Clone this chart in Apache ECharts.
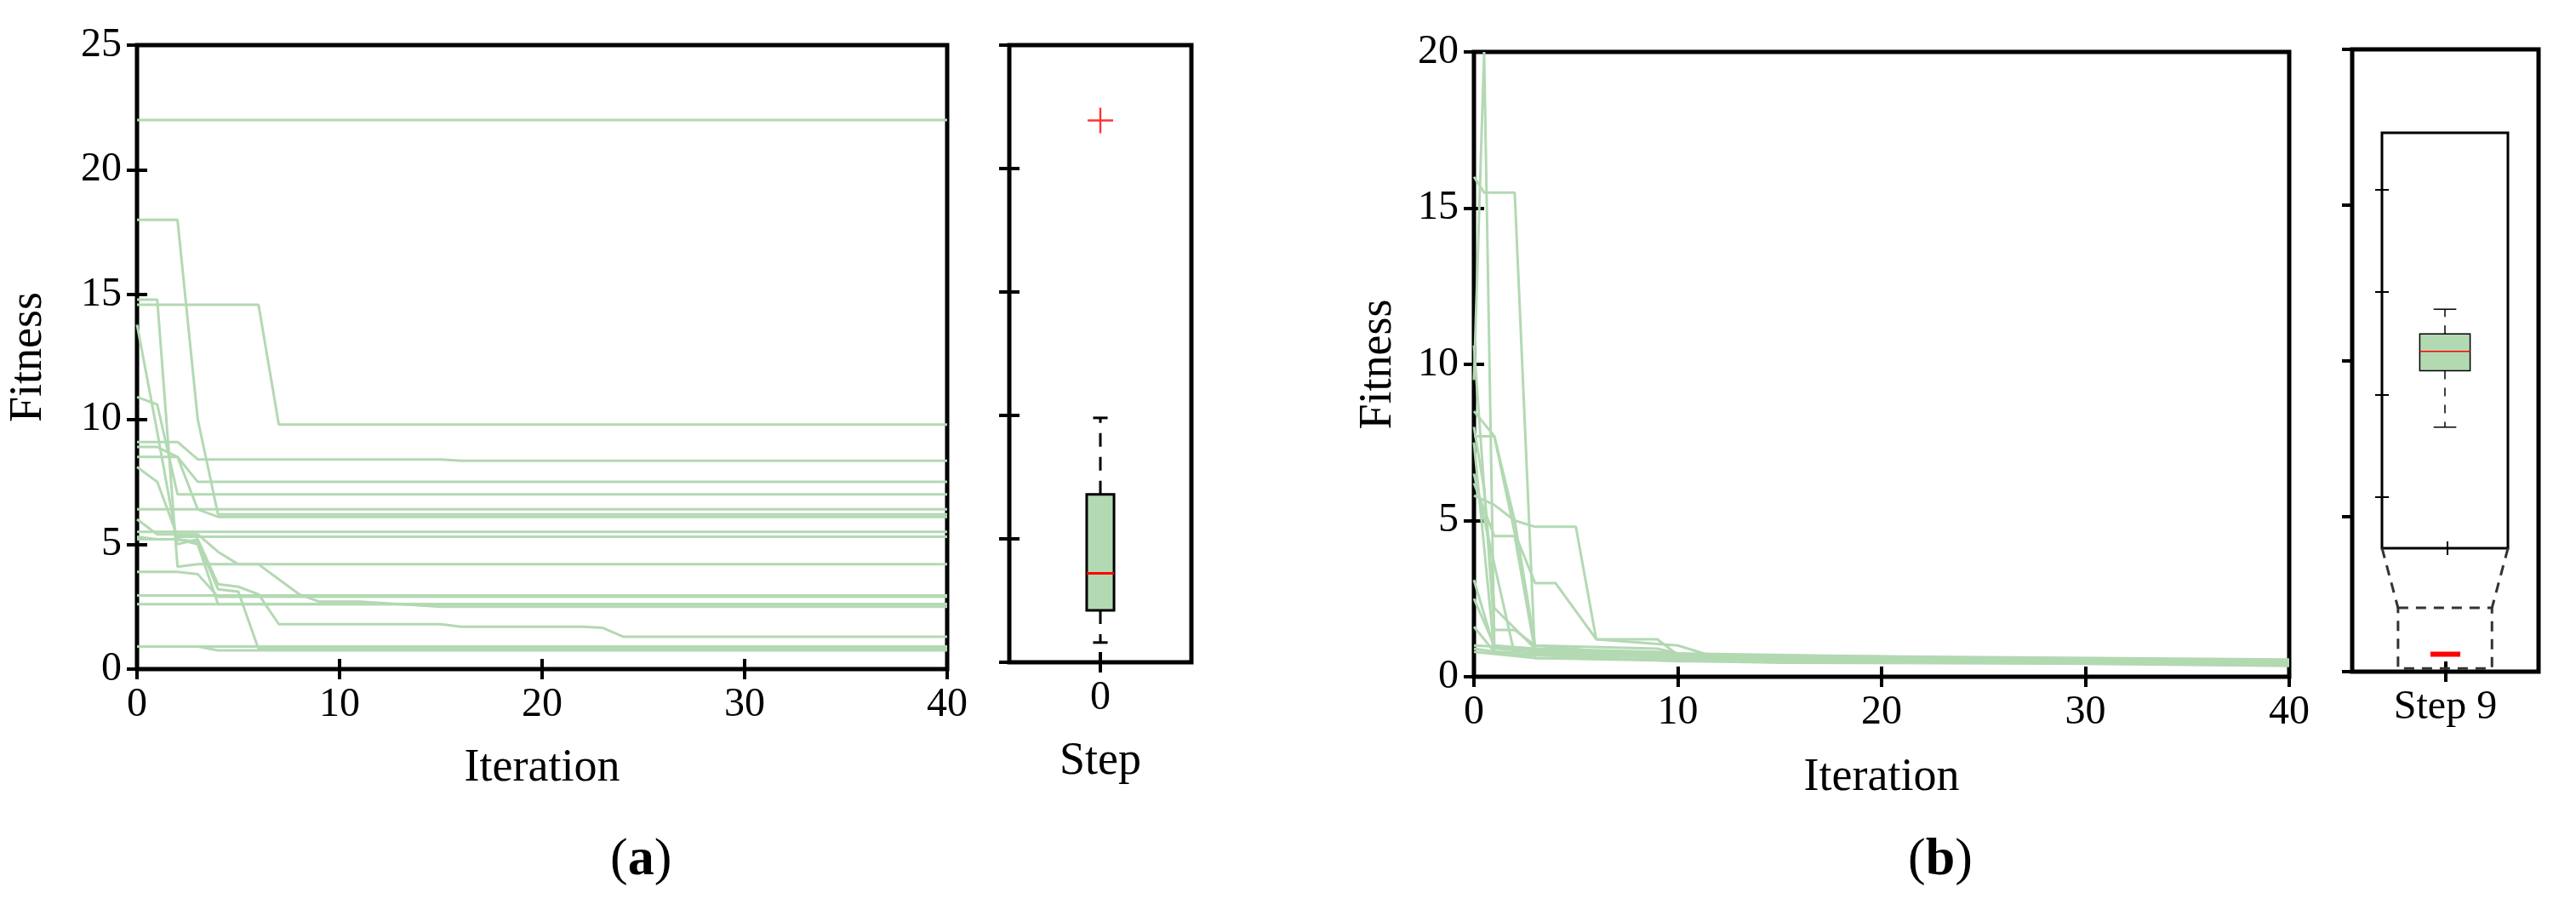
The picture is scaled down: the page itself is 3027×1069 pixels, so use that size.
<!DOCTYPE html>
<html>
<head>
<meta charset="utf-8">
<script src="https://cdn.jsdelivr.net/npm/echarts@6/dist/echarts.min.js"></script>
<style>
html, body { margin: 0; padding: 0; background: #fff; }
#chart { width: 3027px; height: 1069px; }
</style>
</head>
<body>
<div id="chart"></div>
<script>
// panel (a): fitness per run, values at iteration 0,1,2,... then flat to 40
var runsA = [
	[22.0],
	[14.6, 14.6, 14.6, 14.6, 14.6, 14.6, 14.6, 9.8],
	[18.0, 18.0, 18.0, 10.0, 6.2],
	[14.8, 14.8, 4.1, 4.2],
	[13.8, 9.5, 5.0, 5.2, 3.4, 3.3, 3.0, 1.8, 1.8, 1.8, 1.8, 1.8, 1.8, 1.8, 1.8, 1.8, 1.7, 1.7, 1.7, 1.7, 1.7, 1.7, 1.7, 1.65, 1.3],
	[10.9, 10.6, 7.0, 7.0],
	[9.1, 9.1, 9.1, 8.4, 8.4, 8.4, 8.4, 8.4, 8.4, 8.4, 8.4, 8.4, 8.4, 8.4, 8.4, 8.4, 8.35],
	[8.9, 8.9, 8.5, 7.5],
	[8.5, 8.5, 8.5, 6.4, 6.1],
	[8.1, 7.5, 5.3, 5.3],
	[6.4],
	[6.0, 5.4, 5.4, 5.4, 4.7, 4.2, 4.2, 3.6, 3.0, 2.7, 2.7, 2.7, 2.65, 2.6, 2.55, 2.5],
	[5.5, 5.5, 5.5, 5.5, 5.5],
	[5.3, 5.2, 5.2, 5.0, 2.6],
	[5.2, 5.2, 5.2, 5.1, 3.2, 3.1, 0.8],
	[3.9, 3.9, 3.9, 3.8, 2.9],
	[2.95],
	[2.6],
	[0.9, 0.9, 0.9, 0.9, 0.75],
	[0.9]
];

// panel (b): [iteration, fitness] breakpoints per run
var runsB = [
	[[0, 9.5], [0.5, 20], [1, 1.0], [3, 0.7], [10, 0.5], [40, 0.45]],
	[[0, 16], [0.5, 15.5], [2, 15.5], [3, 0.6], [15, 0.45], [40, 0.4]],
	[[0, 10.6], [1, 1.5], [2, 1.5], [3, 1.0], [10, 0.6], [40, 0.5]],
	[[0, 8.5], [1, 7.7], [2, 4.6], [3, 3.0], [4, 3.0], [6, 1.2], [10, 1.0], [12, 0.6], [40, 0.5]],
	[[0, 7.7], [1, 7.7], [2, 5.0], [3, 4.8], [5, 4.8], [6, 1.2], [9, 1.2], [10, 0.7], [40, 0.55]],
	[[0, 6.2], [1, 4.5], [2, 4.5], [3, 0.8], [10, 0.6], [40, 0.5]],
	[[0, 5.8], [1, 5.5], [2, 5.0], [3, 1.0], [9, 0.9], [11, 0.6], [40, 0.5]],
	[[0, 3.1], [1, 0.9], [10, 0.7], [40, 0.5]],
	[[0, 2.5], [1, 1.0], [5, 0.8], [40, 0.45]],
	[[0, 1.6], [1, 0.8], [40, 0.4]],
	[[0, 1.0], [3, 0.9], [9, 0.8], [15, 0.5], [40, 0.45]],
	[[0, 0.9], [2, 0.7], [40, 0.4]],
	[[0, 0.8], [3, 0.6], [40, 0.35]],
	[[0, 8.0], [0.5, 6.0], [1, 2.2], [3, 0.9], [10, 0.7], [40, 0.5]],
	[[0, 7.5], [1, 0.8], [40, 0.45]],
	[[0, 6.5], [2, 0.7], [40, 0.4]]
];

// box stats: [low whisker, q1, median, q3, high whisker]
var boxA = [0.8, 2.1, 3.6, 6.8, 9.9];
var outliersA = [21.95];
// step 9 box, in zoomed inset units
var boxB = [1.18, 1.73, 1.92, 2.09, 2.33];
var insetTicks = [0.5, 1.5, 2.5, 3.5];
// squashed box in the outer step-9 panel
var boxBOuter = [0.56];
// zoom guide: outer region and inset corners (x fraction, fitness)
var zoomRect = [[0.246, 0.1], [0.75, 2.05]];
var insetCorners = [[0.16, 3.97], [0.836, 3.97]];

var green = '#b3d9b3';
var font = 'Liberation Serif';

function lineData(vals) {
	var d = vals.map(function (v, i) { return [i, v]; });
	d.push([40, vals[vals.length - 1]]);
	return d;
}

function frameAxes(kind, grid, opt, noPrimaryTicks) {
	// primary axis plus a mirrored one so ticks sit on all four sides
	var base = {
		gridIndex: grid, type: 'value',
		axisLine: { show: false },
		axisTick: { show: true, inside: true, length: 12, lineStyle: { color: '#000', width: 4 } },
		splitLine: { show: false },
		axisLabel: { show: false }
	};
	var a = Object.assign({}, base, opt);
	var b = Object.assign({}, base, opt, { axisLabel: { show: false }, name: '' });
	if (noPrimaryTicks) a.axisTick = { show: false };
	b.position = kind == 'x' ? 'top' : 'right';
	a.position = kind == 'x' ? 'bottom' : 'left';
	return [a, b];
}

var labelStyle = { show: true, color: '#000', fontFamily: font, fontSize: 48, margin: 18 };
var nameStyle = { color: '#000', fontFamily: font, fontSize: 54, fontWeight: 'normal' };

var xAxes = [], yAxes = [];
// grid 0: (a) lines
xAxes = xAxes.concat(frameAxes('x', 0, { min: 0, max: 40, interval: 10, axisLabel: labelStyle,
	name: 'Iteration', nameLocation: 'middle', nameGap: 90, nameTextStyle: nameStyle }));
yAxes = yAxes.concat(frameAxes('y', 0, { min: 0, max: 25, interval: 5, axisLabel: labelStyle,
	name: 'Fitness', nameLocation: 'middle', nameGap: 100, nameTextStyle: nameStyle }));
// grid 1: (a) box
xAxes = xAxes.concat(frameAxes('x', 1, { min: 0, max: 1,
	axisTick: { show: true, inside: true, length: 12, customValues: [0.5], lineStyle: { color: '#000', width: 4 } },
	axisLabel: Object.assign({}, labelStyle, { customValues: [0.5], formatter: function () { return '0'; } }),
	name: 'Step', nameLocation: 'middle', nameGap: 90, nameTextStyle: nameStyle }));
yAxes = yAxes.concat(frameAxes('y', 1, { min: 0, max: 25, interval: 5 }));
// grid 2: (b) lines
xAxes = xAxes.concat(frameAxes('x', 2, { min: 0, max: 40, interval: 10, axisLabel: labelStyle,
	name: 'Iteration', nameLocation: 'middle', nameGap: 92, nameTextStyle: nameStyle }));
yAxes = yAxes.concat(frameAxes('y', 2, { min: 0, max: 20, interval: 5, axisLabel: labelStyle,
	name: 'Fitness', nameLocation: 'middle', nameGap: 85, nameTextStyle: nameStyle }));
// grid 3: (b) outer box
xAxes = xAxes.concat(frameAxes('x', 3, { min: 0, max: 1,
	axisTick: { show: true, inside: true, length: 12, customValues: [0.5], lineStyle: { color: '#000', width: 4 } },
	axisLabel: Object.assign({}, labelStyle, { customValues: [0.5], formatter: function () { return 'Step 9'; } }) }));
yAxes = yAxes.concat(frameAxes('y', 3, { min: 0, max: 20, interval: 5 }, true));
// grid 4: (b) inset
var insetTick = { show: true, inside: true, length: 8, lineStyle: { color: '#000', width: 2 } };
xAxes = xAxes.concat(frameAxes('x', 4, { min: 0, max: 1,
	axisTick: Object.assign({}, insetTick, { customValues: [0.52] }) }));
yAxes = yAxes.concat(frameAxes('y', 4, { min: 0, max: 4.05,
	axisTick: Object.assign({}, insetTick, { customValues: insetTicks }) }));

function boxRender(stats, halfW, capW, thin) {
	return function (params, api) {
		var lo = api.coord([0.5, stats[0]]), q1 = api.coord([0.5, stats[1]]),
			md = api.coord([0.5, stats[2]]), q3 = api.coord([0.5, stats[3]]),
			hi = api.coord([0.5, stats[4]]);
		var left = api.coord([0.5 - halfW, 0])[0], right = api.coord([0.5 + halfW, 0])[0];
		var cl = api.coord([0.5 - capW, 0])[0], cr = api.coord([0.5 + capW, 0])[0];
		var cx = lo[0];
		var lw = thin ? 1.5 : 3;
		var dash = thin ? [10, 10] : [16, 12];
		return { type: 'group', children: [
			{ type: 'line', shape: { x1: cx, y1: q3[1], x2: cx, y2: hi[1] }, style: { stroke: '#000', lineWidth: lw, lineDash: dash } },
			{ type: 'line', shape: { x1: cx, y1: q1[1], x2: cx, y2: lo[1] }, style: { stroke: '#000', lineWidth: lw, lineDash: dash } },
			{ type: 'line', shape: { x1: cl, y1: hi[1], x2: cr, y2: hi[1] }, style: { stroke: '#000', lineWidth: lw } },
			{ type: 'line', shape: { x1: cl, y1: lo[1], x2: cr, y2: lo[1] }, style: { stroke: '#000', lineWidth: lw } },
			{ type: 'rect', shape: { x: left, y: q3[1], width: right - left, height: q1[1] - q3[1] },
				style: { fill: green, stroke: '#000', lineWidth: lw } },
			{ type: 'line', shape: { x1: left, y1: md[1], x2: right, y2: md[1] }, style: { stroke: '#f00', lineWidth: thin ? 1.5 : 3 } }
		] };
	};
}

var series = [];
runsA.forEach(function (r) {
	series.push({ type: 'line', xAxisIndex: 0, yAxisIndex: 0, data: lineData(r), showSymbol: false,
		silent: true, lineStyle: { color: green, width: 3 }, z: 1 });
});
runsB.forEach(function (r) {
	series.push({ type: 'line', xAxisIndex: 4, yAxisIndex: 4, data: r, showSymbol: false,
		silent: true, lineStyle: { color: green, width: 3 }, z: 1 });
});
series.push({ type: 'custom', xAxisIndex: 2, yAxisIndex: 2, data: [0], renderItem: boxRender(boxA, 0.075, 0.04, false) });
series.push({ type: 'scatter', xAxisIndex: 2, yAxisIndex: 2, data: outliersA.map(function (v) { return [0.5, v]; }),
	symbol: 'path://M-0.08,-1H0.08V-0.08H1V0.08H0.08V1H-0.08V0.08H-1V-0.08H-0.08Z', symbolSize: 30,
	itemStyle: { color: '#f00' } });
series.push({ type: 'custom', xAxisIndex: 8, yAxisIndex: 8, data: [0], renderItem: boxRender(boxB, 0.2, 0.09, true) });
// zoom guide in outer step 9 panel
series.push({ type: 'custom', xAxisIndex: 6, yAxisIndex: 6, data: [0], renderItem: function (params, api) {
	var p0 = api.coord(zoomRect[0]), p1 = api.coord(zoomRect[1]);
	var c0 = api.coord(insetCorners[0]), c1 = api.coord(insetCorners[1]);
	var st = { stroke: '#333', lineWidth: 3, lineDash: [12, 9], fill: null };
	var m0 = api.coord([0.42, boxBOuter[0]]), m1 = api.coord([0.58, boxBOuter[0]]);
	return { type: 'group', children: [
		{ type: 'rect', shape: { x: p0[0], y: p1[1], width: p1[0] - p0[0], height: p0[1] - p1[1] }, style: st },
		{ type: 'line', shape: { x1: c0[0], y1: c0[1], x2: p0[0], y2: p1[1] }, style: st },
		{ type: 'line', shape: { x1: c1[0], y1: c1[1], x2: p1[0], y2: p1[1] }, style: st },
		{ type: 'line', shape: { x1: m0[0], y1: m0[1], x2: m1[0], y2: m1[1] }, style: { stroke: '#f00', lineWidth: 6 } }
	] };
} });

var gridStyle = { show: true, borderColor: '#000', borderWidth: 5, backgroundColor: '#fff' };
var capRich = {
	p: { fontFamily: font, fontSize: 62, color: '#000', fontWeight: 'normal' },
	b: { fontFamily: font, fontSize: 62, fontWeight: 'bold', color: '#000' }
};
var option = {
	animation: false,
	backgroundColor: '#fff',
	textStyle: { fontFamily: font },
	grid: [
		Object.assign({ left: 161, top: 53, width: 952, height: 733 }, gridStyle),
		Object.assign({ left: 1186, top: 53, width: 214, height: 725 }, gridStyle),
		Object.assign({ left: 1732, top: 61, width: 958, height: 734 }, gridStyle),
		Object.assign({ left: 2764, top: 58, width: 219, height: 731 }, gridStyle),
		Object.assign({ left: 2799, top: 156, width: 148, height: 488 }, gridStyle, { borderWidth: 3 })
	],
	xAxis: xAxes,
	yAxis: yAxes,
	title: [
		{ text: '{p|(}{b|a}{p|)}', left: 712, top: 975, textStyle: { fontWeight: 'normal', rich: capRich } },
		{ text: '{p|(}{b|b}{p|)}', left: 2237, top: 975, textStyle: { fontWeight: 'normal', rich: capRich } }
	],
	series: series
};

var chart = echarts.init(document.getElementById('chart'));
chart.setOption(option);
</script>
</body>
</html>
